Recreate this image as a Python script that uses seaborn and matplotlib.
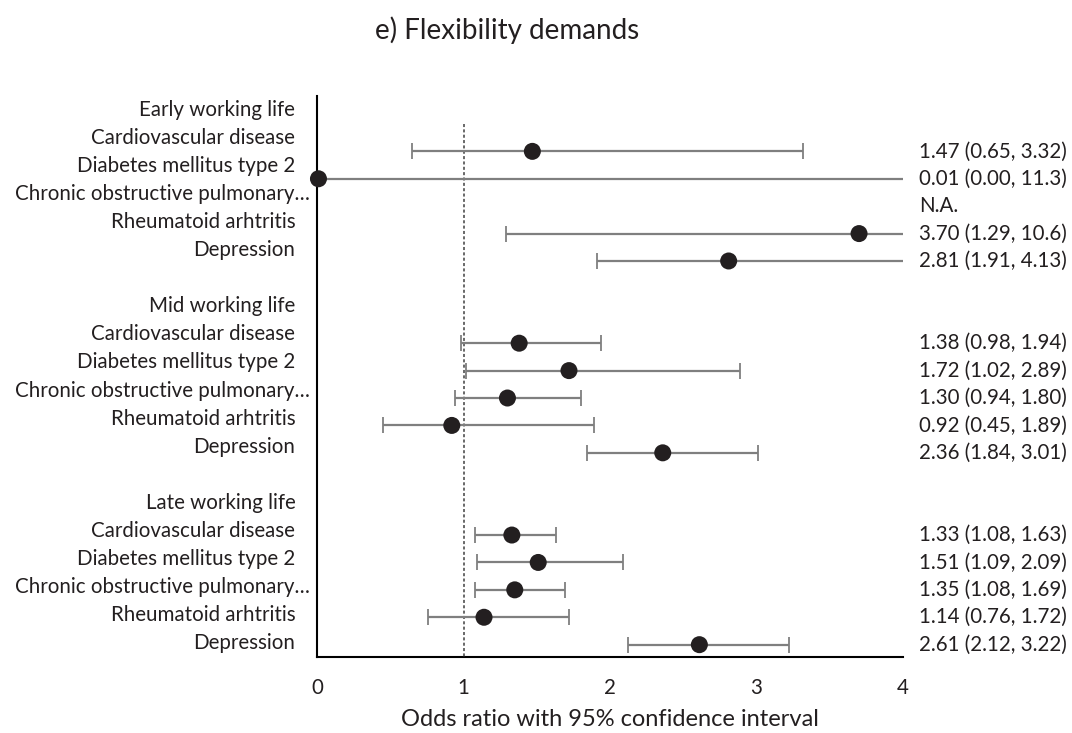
import numpy as np
import pandas as pd
import matplotlib.pyplot as plt
import matplotlib.transforms as mtransforms
import seaborn as sns

sns.set_theme(style="white")
plt.rcParams['font.family'] = ['Lato', 'DejaVu Sans']

# rows of the category axis (headers, diseases, blank spacers)
rows = ['Early working life', 'Cardiovascular disease', 'Diabetes mellitus type 2',
        'Chronic obstructive pulmonary…', 'Rheumatoid arhtritis', 'Depression', '',
        'Mid working life', 'Cardiovascular disease', 'Diabetes mellitus type 2',
        'Chronic obstructive pulmonary…', 'Rheumatoid arhtritis', 'Depression', '',
        'Late working life', 'Cardiovascular disease', 'Diabetes mellitus type 2',
        'Chronic obstructive pulmonary…', 'Rheumatoid arhtritis', 'Depression']

# odds ratios and 95% CI per row (nan = header / blank / not available)
nan = np.nan
odds = [nan, 1.47, 0.01, nan, 3.70, 2.81, nan,
        nan, 1.38, 1.72, 1.30, 0.92, 2.36, nan,
        nan, 1.33, 1.51, 1.35, 1.14, 2.61]
lower = [nan, 0.65, 0.00, nan, 1.29, 1.91, nan,
         nan, 0.98, 1.02, 0.94, 0.45, 1.84, nan,
         nan, 1.08, 1.09, 1.08, 0.76, 2.12]
upper = [nan, 3.32, 11.3, nan, 10.6, 4.13, nan,
         nan, 1.94, 2.89, 1.80, 1.89, 3.01, nan,
         nan, 1.63, 2.09, 1.69, 1.72, 3.22]
right_labels = ['', '1.47 (0.65, 3.32)', '0.01 (0.00, 11.3)', 'N.A.', '3.70 (1.29, 10.6)',
                '2.81 (1.91, 4.13)', '', '', '1.38 (0.98, 1.94)', '1.72 (1.02, 2.89)',
                '1.30 (0.94, 1.80)', '0.92 (0.45, 1.89)', '2.36 (1.84, 3.01)', '', '',
                '1.33 (1.08, 1.63)', '1.51 (1.09, 2.09)', '1.35 (1.08, 1.69)',
                '1.14 (0.76, 1.72)', '2.61 (2.12, 3.22)']

df = pd.DataFrame({'row': np.arange(len(rows)), 'label': rows, 'odds': odds,
                   'lower': lower, 'upper': upper, 'txt': right_labels})
pts = df.dropna(subset=['odds'])

txt_col = '#231f20'
fs = 14.8

fig = plt.figure(figsize=(10.72, 7.33), dpi=100)
ax = fig.add_axes([317/1072, 1 - 657/733, 586/1072, 561/733])

# category axis (labels)
ax.set_ylim(len(rows), 0)
ax.set_xlim(0, 4)
ax.set_yticks([])
tr = mtransforms.blended_transform_factory(ax.transAxes, ax.transData)
for i, lab in enumerate(rows):
    xx = -0.012 if lab.startswith('Chronic') else -0.037
    ax.text(xx, i + 0.5, lab, transform=tr, ha='right', va='center',
            fontsize=fs, color=txt_col)

ax.set_xticks([0, 1, 2, 3, 4])
ax.tick_params(axis='x', length=0, pad=15, labelsize=fs, labelcolor=txt_col)
ax.set_xlabel('Odds ratio with 95% confidence interval', fontsize=17,
              color=txt_col, labelpad=8)
for s in ['top', 'right']:
    ax.spines[s].set_visible(False)
for s in ['left', 'bottom']:
    ax.spines[s].set_color('black')
    ax.spines[s].set_linewidth(1.5)

# secondary axis for the points (slightly different spacing, like the original)
ax2 = ax.twinx()
ax2.set_ylim(19.45, -1.02)
ax2.set_yticks([])
for s in ax2.spines.values():
    s.set_visible(False)

ax2.vlines(1, 0, 19.45, colors='#404040', linestyles=(0, (2, 1.5)), linewidth=1.1)

ax2.errorbar(pts['odds'], pts['row'],
             xerr=[pts['odds'] - pts['lower'], pts['upper'] - pts['odds']],
             fmt='none', ecolor='#7f7f7f', elinewidth=1.6, capsize=6, capthick=1.3)
sns.scatterplot(data=pts, x='odds', y='row', ax=ax2, color='#231f20', s=150,
                edgecolor='none', zorder=5, clip_on=False, legend=False)
ax2.set_xlim(0, 4)
ax2.set_xlabel('')
ax2.set_ylabel('')

tr2 = mtransforms.blended_transform_factory(ax2.transAxes, ax2.transData)
for i, t in zip(df['row'], df['txt']):
    if t:
        ax2.text(1.028, i, t, transform=tr2, ha='left', va='center',
                 fontsize=fs, color=txt_col)

fig.text(507/1072, 1 - 30/733, 'e) Flexibility demands', ha='center', va='center',
         fontsize=20, color=txt_col)

fig.savefig('out.png', dpi=100)
